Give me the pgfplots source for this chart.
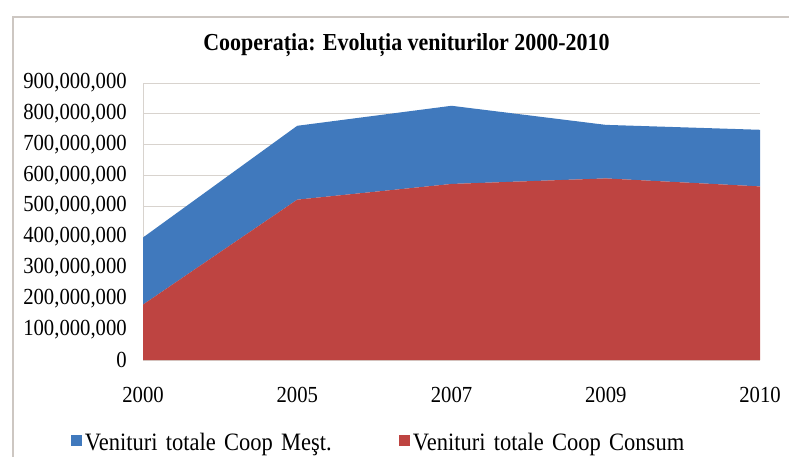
\documentclass[border=0pt]{standalone}
\usepackage{fontspec}
\setmainfont{Liberation Serif}[FakeStretch=0.9]
\usepackage{pgfplots}
\pgfplotsset{compat=1.18}
\definecolor{cblue}{RGB}{64,121,189}
\definecolor{cred}{RGB}{190,68,65}
\definecolor{cgrid}{RGB}{216,211,206}
\definecolor{cframe}{RGB}{205,199,194}
\begin{document}
\begin{tikzpicture}[x=1pt,y=1pt]
\useasboundingbox (0,0) rectangle (789,456);
\draw[cframe, line width=1.5pt] (13,439) rectangle (810,-20);
\node[anchor=base, font=\fontsize{24.4}{26}\selectfont\bfseries] at (406.5,405) {Cooperația: Evoluția veniturilor 2000-2010};
\begin{axis}[
  at={(143pt,96pt)}, anchor=south west,
  scale only axis, width=617pt, height=277pt,
  stack plots=y,
  xmin=0, xmax=4, ymin=0, ymax=900000000,
  xtick={0,1,2,3,4},
  xticklabels={2000,2005,2007,2009,2010},
  ytick={0,100000000,200000000,300000000,400000000,500000000,600000000,700000000,800000000,900000000},
  scaled y ticks=false,
  /pgf/number format/assume math mode=true,
  yticklabel={\pgfmathprintnumber[fixed,precision=0,1000 sep={,}]{\tick}},
  yticklabel style={font=\fontsize{23}{23}\selectfont, anchor=east, inner sep=0pt, xshift=-16pt},
  xticklabel style={font=\fontsize{23}{23}\selectfont, anchor=center, inner sep=0pt, yshift=-35pt},
  major tick length=0pt,
  axis x line*=bottom, axis y line*=left,
  x axis line style={draw=none},
  y axis line style={draw=cgrid, line width=1pt},
  ymajorgrids, grid style={draw=cgrid, line width=1pt},
  reverse legend,
  legend cell align=left,
  legend image code/.code={\fill (0pt,-3.5pt) rectangle (11pt,7.5pt);},
  legend style={draw=none, fill=none, inner sep=0pt, outer sep=0pt,
    at={(-0.1167,-0.2996)}, anchor=west,
    legend columns=2, column sep=0pt,
    font=\fontsize{25}{25}\selectfont,
    nodes={inner sep=0pt, text width=314pt},
    /tikz/every odd column/.append style={column sep=3pt}},
]
\addplot[fill=cred, draw=none] coordinates {(0,180000000) (1,521000000) (2,572000000) (3,590000000) (4,564000000)} \closedcycle;
\addlegendentry{Venituri totale Coop Consum}
\addplot[fill=cblue, draw=none] coordinates {(0,218000000) (1,240000000) (2,254000000) (3,174000000) (4,184000000)} \closedcycle;
\addlegendentry{Venituri totale Coop Meşt.}
\end{axis}
\end{tikzpicture}
\end{document}
